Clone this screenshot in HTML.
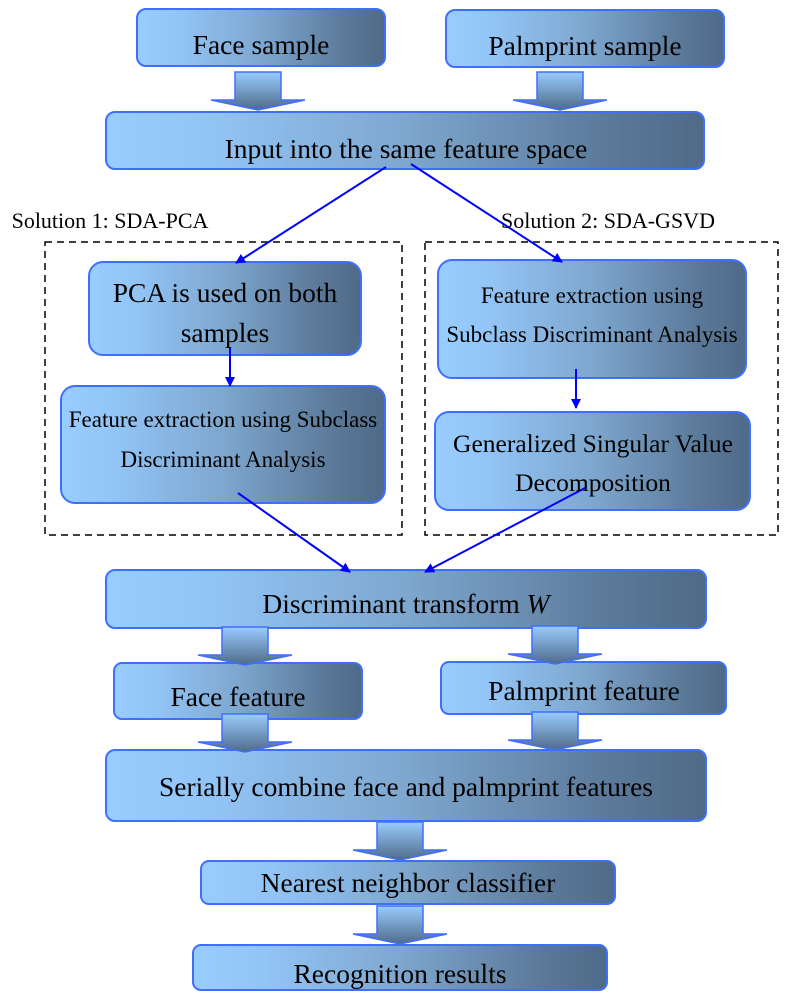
<!DOCTYPE html>
<html><head><meta charset="utf-8"><style>
html,body{margin:0;padding:0;background:#fff;}
svg{display:block;}
text{font-family:"Liberation Serif",serif;fill:#000;text-anchor:middle;}
</style></head><body>
<svg width="786" height="1000" viewBox="0 0 786 1000" xmlns="http://www.w3.org/2000/svg">
<defs>
<linearGradient id="g" x1="0" y1="0" x2="1" y2="0">
<stop offset="0" stop-color="#99ccff"/><stop offset="0.15" stop-color="#93c6f8"/><stop offset="0.5" stop-color="#7ea7cf"/><stop offset="0.85" stop-color="#5a7898"/><stop offset="1" stop-color="#4f6a88"/>
</linearGradient>
<linearGradient id="v" x1="0" y1="0" x2="0" y2="1">
<stop offset="0" stop-color="#99ccff"/><stop offset="1" stop-color="#4f6a88"/>
</linearGradient>
<marker id="ah" markerWidth="10" markerHeight="10" refX="9" refY="5" orient="auto" markerUnits="userSpaceOnUse">
<path d="M0,0 L10,5 L0,10 z" fill="#0000ff"/></marker>
<g id="ba">
<path d="M-23,0 H23 V28 H47 L0,38 L-47,28 H-23 Z" fill="url(#v)" stroke="#3f6fff" stroke-width="1.5"/>
</g>
</defs>
<g stroke="#3f6fff" stroke-width="2" fill="url(#g)">
<rect x="137" y="9" width="248" height="57" rx="9"/>
<rect x="446" y="10" width="278" height="57" rx="9"/>
<rect x="106" y="112" width="598" height="57" rx="9"/>
<rect x="89" y="262" width="272" height="93" rx="14"/>
<rect x="61" y="386" width="324" height="117" rx="14"/>
<rect x="438" y="260" width="308" height="118" rx="14"/>
<rect x="435" y="412" width="315" height="98" rx="14"/>
<rect x="106" y="570" width="600" height="58" rx="9"/>
<rect x="114" y="663" width="248" height="56" rx="8"/>
<rect x="441" y="662" width="285" height="52" rx="8"/>
<rect x="106" y="750" width="600" height="71" rx="9"/>
<rect x="201" y="861" width="414" height="43" rx="8"/>
<rect x="193" y="945" width="414" height="45" rx="8"/>
</g>
<use href="#ba" x="258" y="72"/>
<use href="#ba" x="560" y="72"/>
<use href="#ba" x="245" y="627"/>
<use href="#ba" x="555" y="626"/>
<use href="#ba" x="245" y="714"/>
<use href="#ba" x="555" y="712"/>
<use href="#ba" x="400" y="822"/>
<use href="#ba" x="400" y="906"/>
<g fill="none" stroke="#000" stroke-width="1.5" stroke-dasharray="7,5">
<rect x="45" y="242" width="357" height="293"/>
<rect x="425" y="242" width="353" height="293"/>
</g>
<g stroke="#0000ff" stroke-width="2" fill="none" marker-end="url(#ah)">
<line x1="386" y1="167" x2="236" y2="263"/>
<line x1="411" y1="164" x2="562" y2="262"/>
<line x1="230" y1="348" x2="230" y2="386"/>
<line x1="576" y1="369" x2="576" y2="408"/>
<line x1="238" y1="493" x2="350" y2="572"/>
<line x1="585" y1="488" x2="425" y2="572"/>
</g>
<text x="261" y="54" font-size="27.5">Face sample</text>
<text x="585" y="55" font-size="27.5">Palmprint sample</text>
<text x="406" y="158" font-size="27.5">Input into the same feature space</text>
<text x="110" y="228" font-size="22">Solution 1: SDA-PCA</text>
<text x="608" y="228" font-size="22">Solution 2: SDA-GSVD</text>
<text x="225" y="302" font-size="27.5">PCA is used on both</text>
<text x="225" y="342" font-size="27.5">samples</text>
<text x="223" y="427" font-size="23">Feature extraction using Subclass</text>
<text x="223" y="467" font-size="23">Discriminant Analysis</text>
<text x="592" y="303" font-size="23">Feature extraction using</text>
<text x="592" y="342" font-size="23">Subclass Discriminant Analysis</text>
<text x="593" y="452" font-size="25.5">Generalized Singular Value</text>
<text x="593" y="491" font-size="25.5">Decomposition</text>
<text x="406" y="613" font-size="27.5">Discriminant transform <tspan font-style="italic">W</tspan></text>
<text x="238" y="706" font-size="27.5">Face feature</text>
<text x="584" y="700" font-size="27.5">Palmprint feature</text>
<text x="406" y="796" font-size="27.5">Serially combine face and palmprint features</text>
<text x="408" y="892" font-size="27.5">Nearest neighbor classifier</text>
<text x="400" y="983" font-size="27.5">Recognition results</text>
</svg>
</body></html>
